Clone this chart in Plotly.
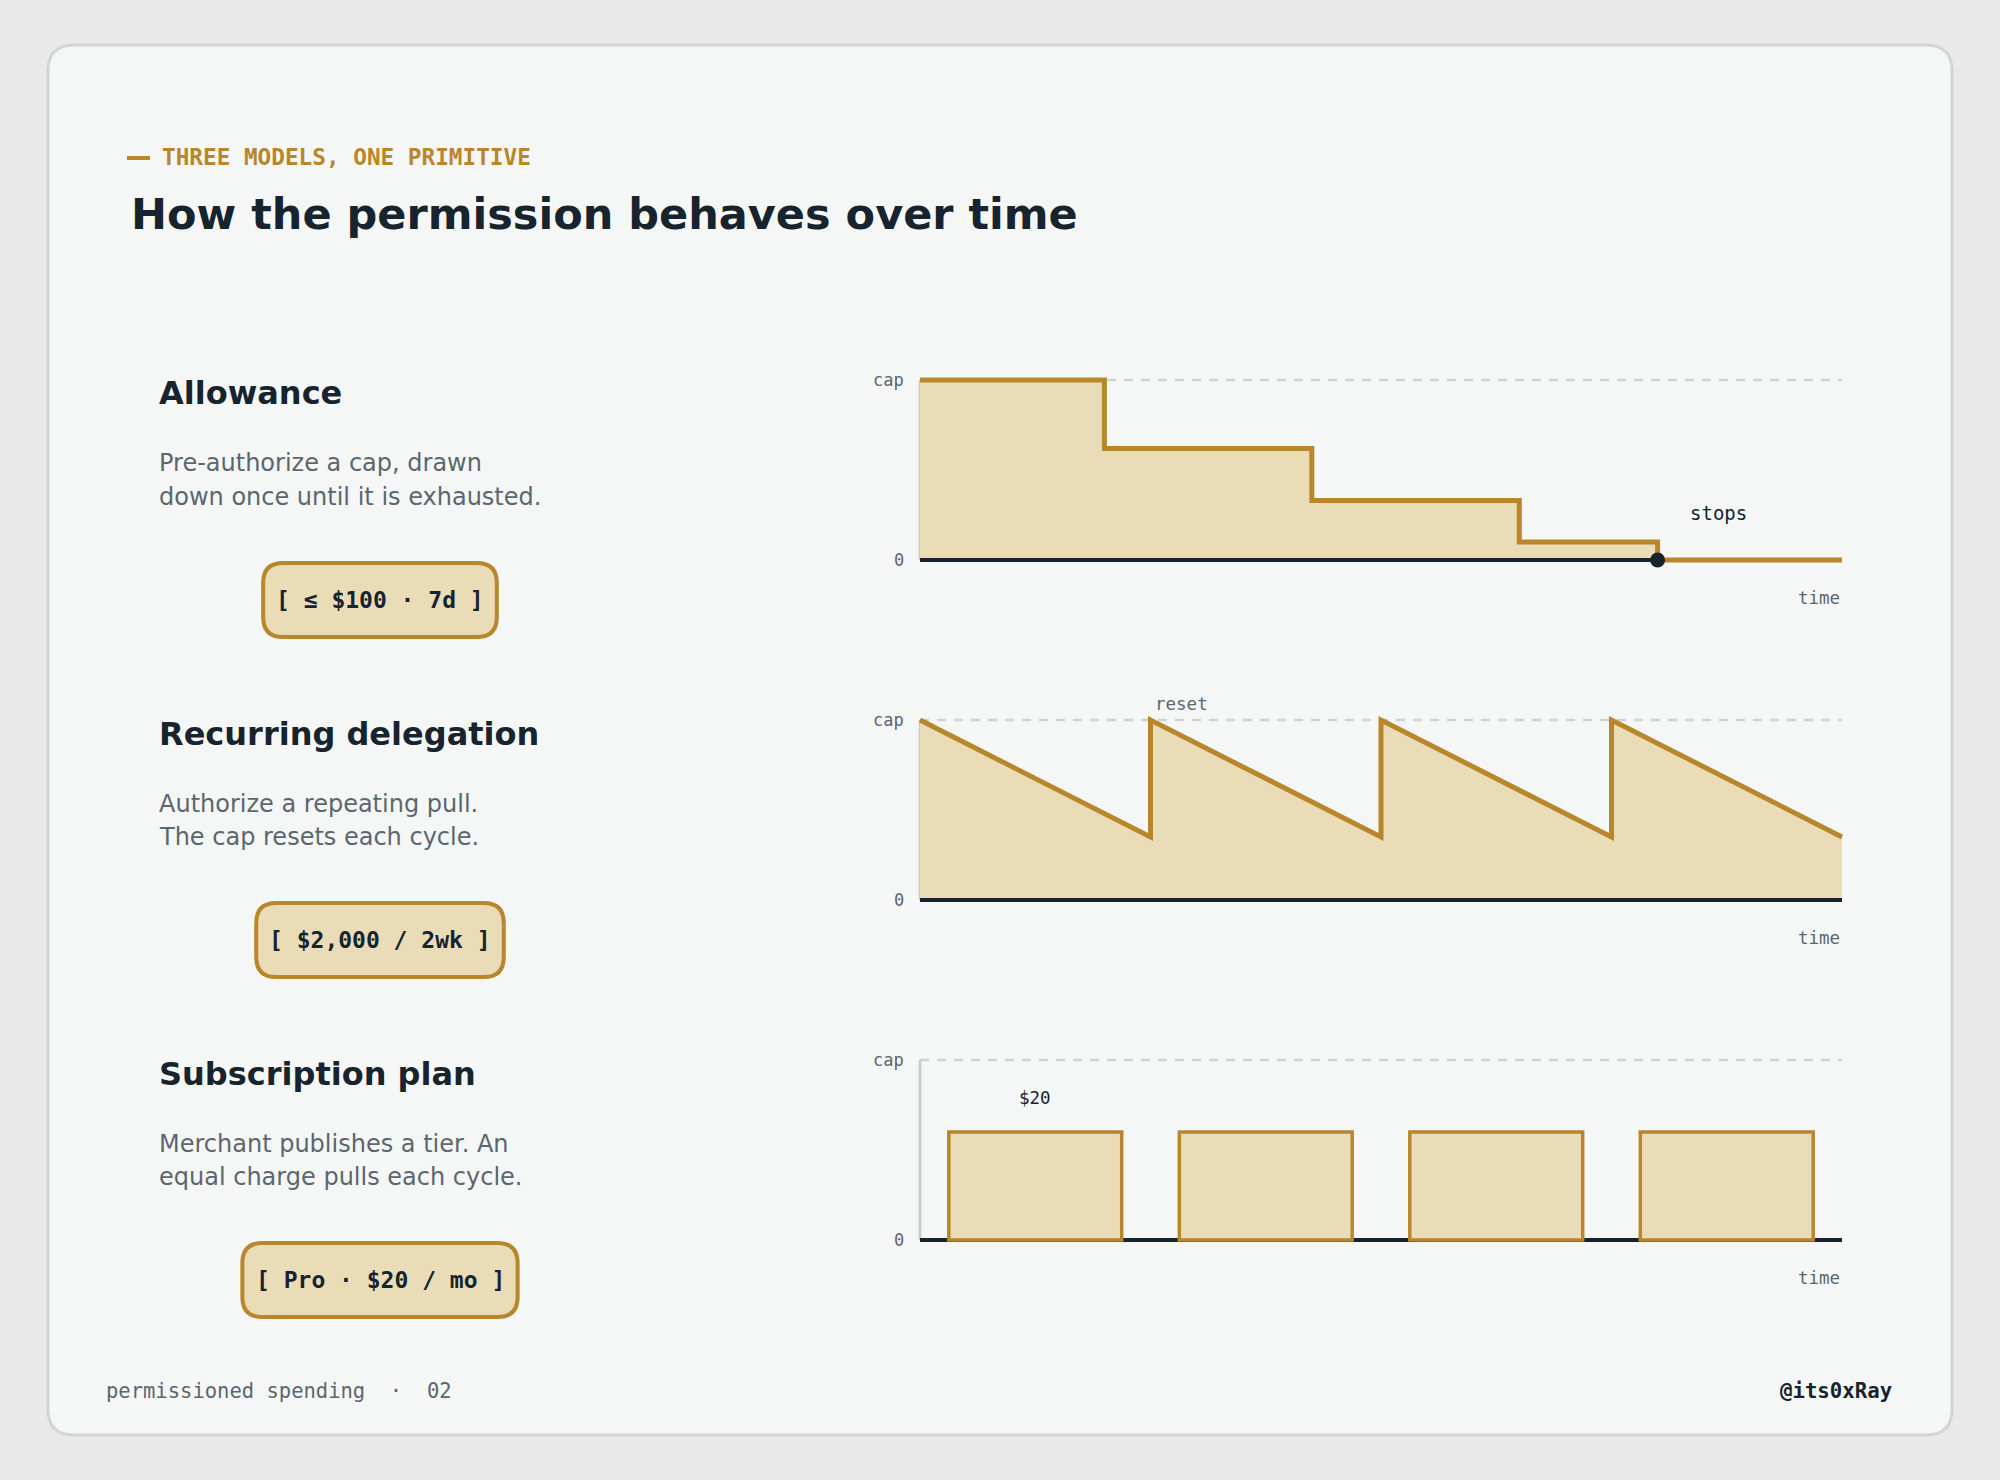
import plotly.graph_objects as go

W, H = 2000, 1480

GOLD = "#b8862b"
FILL = "#ebdcb8"
DARK = "#17242d"
GREY = "#5b666e"
DASH = "#cfd2d3"
STUB = "#c8cbcc"
SANS = "DejaVu Sans"
MONO = "DejaVu Sans Mono"

# data (time and level both normalised: 0 .. cap)
T_START, T_END = 0.0, 1.0
CAP = 1.0

ALLOW_T = [0.0, 0.2, 0.425, 0.65, 0.8, 1.0]
ALLOW_LEFT = [1.0, 0.62, 0.33, 0.1, 0.0, 0.0]
STOP_T = 0.8

RECUR_T = [0.0, 0.25, 0.25, 0.5, 0.5, 0.75, 0.75, 1.0]
RECUR_LEFT = [1.0, 0.35, 1.0, 0.35, 1.0, 0.35, 1.0, 0.35]
RESET_T = 0.25

SUB_CENTERS = [0.125, 0.375, 0.625, 0.875]
SUB_CHARGE = [0.6, 0.6, 0.6, 0.6]
SUB_WIDTH = 0.1875

TITLES = ["Allowance", "Recurring delegation", "Subscription plan"]
DESCS = [
    ["Pre-authorize a cap, drawn", "down once until it is exhausted."],
    ["Authorize a repeating pull.", "The cap resets each cycle."],
    ["Merchant publishes a tier. An", "equal charge pulls each cycle."],
]
BADGES = ["[ ≤ $100 · 7d ]", "[ $2,000 / 2wk ]", "[ Pro · $20 / mo ]"]


def px(x):
    return x / W


def py(y):
    return 1 - y / H


def rounded(x0, y0, x1, y1, r):
    # rounded rectangle path in paper coords, input in pixels
    pts = [
        f"M {px(x0 + r)},{py(y0)}",
        f"L {px(x1 - r)},{py(y0)}",
        f"Q {px(x1)},{py(y0)} {px(x1)},{py(y0 + r)}",
        f"L {px(x1)},{py(y1 - r)}",
        f"Q {px(x1)},{py(y1)} {px(x1 - r)},{py(y1)}",
        f"L {px(x0 + r)},{py(y1)}",
        f"Q {px(x0)},{py(y1)} {px(x0)},{py(y1 - r)}",
        f"L {px(x0)},{py(y0 + r)}",
        f"Q {px(x0)},{py(y0)} {px(x0 + r)},{py(y0)}",
        "Z",
    ]
    return " ".join(pts)


# chart geometry in pixels
X0_PX, X1_PX = 920, 1842
ZERO_PX = [560, 900, 1240]
UNIT_Y = 180
XPAD, YPAD = 0.03, 0.1

fig = go.Figure()

# chart 1: allowance
fig.add_trace(go.Scatter(x=ALLOW_T, y=ALLOW_LEFT, mode="lines", line_shape="hv",
                         fill="tozeroy", fillcolor=FILL, line=dict(width=0),
                         xaxis="x", yaxis="y"))
fig.add_trace(go.Scatter(x=[T_START, T_END], y=[0, 0], mode="lines",
                         line=dict(color=DARK, width=4), xaxis="x", yaxis="y"))
fig.add_trace(go.Scatter(x=ALLOW_T, y=ALLOW_LEFT, mode="lines", line_shape="hv",
                         line=dict(color=GOLD, width=5), xaxis="x", yaxis="y"))
fig.add_trace(go.Scatter(x=[STOP_T], y=[0], mode="markers",
                         marker=dict(color=DARK, size=15), xaxis="x", yaxis="y"))

# chart 2: recurring
fig.add_trace(go.Scatter(x=RECUR_T, y=RECUR_LEFT, mode="lines",
                         fill="tozeroy", fillcolor=FILL, line=dict(width=0),
                         xaxis="x2", yaxis="y2"))
fig.add_trace(go.Scatter(x=[T_START, T_END], y=[0, 0], mode="lines",
                         line=dict(color=DARK, width=4), xaxis="x2", yaxis="y2"))
fig.add_trace(go.Scatter(x=RECUR_T, y=RECUR_LEFT, mode="lines",
                         line=dict(color=GOLD, width=5), xaxis="x2", yaxis="y2"))

# chart 3: subscription
fig.add_trace(go.Bar(x=SUB_CENTERS, y=SUB_CHARGE, width=SUB_WIDTH,
                     marker=dict(color=FILL, line=dict(color=GOLD, width=3.5)),
                     xaxis="x3", yaxis="y3"))

layout = dict(
    width=W, height=H, margin=dict(l=0, r=0, t=0, b=0),
    paper_bgcolor="#e8e9e8", plot_bgcolor="rgba(0,0,0,0)",
    showlegend=False, hovermode=False,
)

shapes = [dict(type="path", xref="paper", yref="paper", layer="below",
               path=rounded(48, 45, 1952, 1435, 26),
               fillcolor="#f5f7f6", line=dict(color="#d3d5d4", width=3))]
annotations = []

xd = [px(X0_PX - XPAD * (X1_PX - X0_PX)), px(X1_PX + XPAD * (X1_PX - X0_PX))]
for i in range(3):
    sfx = "" if i == 0 else str(i + 1)
    z = ZERO_PX[i]
    yd = [py(z + YPAD * UNIT_Y), py(z - UNIT_Y - YPAD * UNIT_Y)]
    layout["xaxis" + sfx] = dict(domain=xd, range=[T_START - XPAD, T_END + XPAD],
                                 anchor="y" + sfx, visible=False, fixedrange=True)
    layout["yaxis" + sfx] = dict(domain=yd, range=[-YPAD, CAP + YPAD],
                                 anchor="x" + sfx, visible=False, fixedrange=True)
    xr, yr = "x" + sfx, "y" + sfx
    shapes.append(dict(type="line", xref=xr, yref=yr, layer="below",
                       x0=T_START, x1=T_END, y0=CAP, y1=CAP,
                       line=dict(color=DASH, width=2.5, dash="9px,8px")))
    shapes.append(dict(type="line", xref=xr, yref=yr, layer="below",
                       x0=T_START, x1=T_START, y0=0, y1=CAP,
                       line=dict(color=STUB, width=2.5)))
    if i == 2:
        shapes.append(dict(type="line", xref=xr, yref=yr, layer="below",
                           x0=T_START, x1=T_END, y0=0, y1=0,
                           line=dict(color=DARK, width=4)))
    for lbl, yv in (("cap", CAP), ("0", 0)):
        annotations.append(dict(xref=xr, yref=yr, x=T_START, y=yv, text=lbl,
                                xanchor="right", yanchor="middle", xshift=-14,
                                showarrow=False, font=dict(family=MONO, size=17, color=GREY)))
    annotations.append(dict(xref=xr, yref=yr, x=T_END, y=0, text="time",
                            xanchor="right", yanchor="middle", yshift=-38,
                            showarrow=False, font=dict(family=MONO, size=17.5, color=GREY)))

    # left text column
    off = 340 * i
    annotations.append(dict(xref="paper", yref="paper", x=px(157), y=py(393.5 + off),
                            text=f"<b>{TITLES[i]}</b>", xanchor="left", yanchor="middle",
                            showarrow=False, font=dict(family=SANS, size=32, color=DARK)))
    for j, line in enumerate(DESCS[i]):
        annotations.append(dict(xref="paper", yref="paper", x=px(157), y=py(463.5 + 33 * j + off),
                                text=line, xanchor="left", yanchor="middle",
                                showarrow=False, font=dict(family=SANS, size=24, color=GREY)))
    bw = len(BADGES[i]) * 0.602 * 23 + 26
    cx, cy = 380, 600 + off
    shapes.append(dict(type="path", xref="paper", yref="paper", layer="below",
                       path=rounded(cx - bw / 2, cy - 37, cx + bw / 2, cy + 37, 20),
                       fillcolor=FILL, line=dict(color=GOLD, width=4)))
    annotations.append(dict(xref="paper", yref="paper", x=px(cx), y=py(cy),
                            text=f"<b>{BADGES[i]}</b>", xanchor="center", yanchor="middle",
                            showarrow=False, font=dict(family=MONO, size=23, color=DARK)))

# point labels
annotations += [
    dict(xref="x", yref="y", x=STOP_T, y=0, text="stops", xanchor="left", yanchor="middle",
         xshift=30, yshift=47, showarrow=False, font=dict(family=MONO, size=19, color=DARK)),
    dict(xref="x2", yref="y2", x=RESET_T, y=CAP, text="reset", xanchor="left", yanchor="middle",
         xshift=2, yshift=16, showarrow=False, font=dict(family=MONO, size=17.5, color=GREY)),
    dict(xref="x3", yref="y3", x=SUB_CENTERS[0], y=SUB_CHARGE[0], text="$20",
         xanchor="center", yanchor="middle", yshift=34, showarrow=False,
         font=dict(family=MONO, size=17.5, color=DARK)),
]

# header and footer
shapes.append(dict(type="line", xref="paper", yref="paper", x0=px(127), x1=px(150),
                   y0=py(158), y1=py(158), line=dict(color=GOLD, width=4)))
annotations += [
    dict(xref="paper", yref="paper", x=px(160), y=py(157), text="<b>THREE MODELS, ONE PRIMITIVE</b>",
         xanchor="left", yanchor="middle", showarrow=False,
         font=dict(family=MONO, size=22.7, color=GOLD)),
    dict(xref="paper", yref="paper", x=px(129), y=py(214), text="<b>How the permission behaves over time</b>",
         xanchor="left", yanchor="middle", showarrow=False,
         font=dict(family=SANS, size=43, color=DARK)),
    dict(xref="paper", yref="paper", x=px(104), y=py(1391),
         text="permissioned spending\u00a0\u00a0·\u00a0\u00a002",
         xanchor="left", yanchor="middle", showarrow=False,
         font=dict(family=MONO, size=20.5, color=GREY)),
    dict(xref="paper", yref="paper", x=px(1894), y=py(1391), text="<b>@its0xRay</b>",
         xanchor="right", yanchor="middle", showarrow=False,
         font=dict(family=MONO, size=20.7, color=DARK)),
]

layout["shapes"] = shapes
layout["annotations"] = annotations
fig.update_layout(**layout)

fig.write_html("out.html", config={"displayModeBar": False},
               post_script="document.body.style.margin='0';document.body.style.background='#e8e9e8';")
